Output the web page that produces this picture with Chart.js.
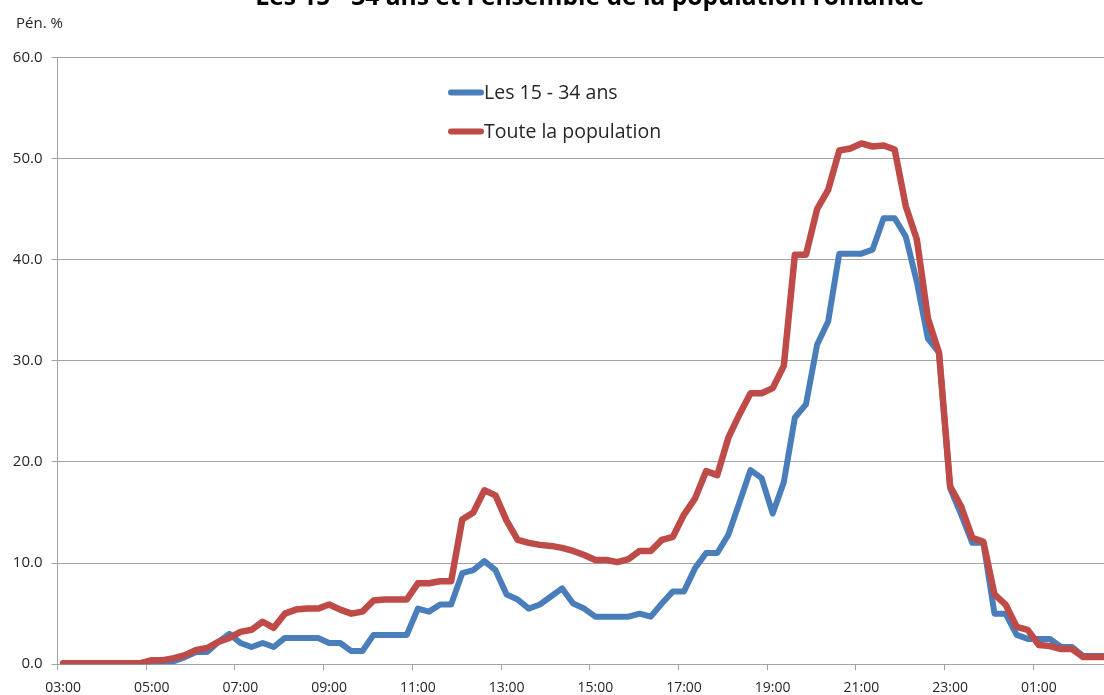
<!DOCTYPE html>
<html>
<head>
<meta charset="utf-8">
<script src="https://cdn.jsdelivr.net/npm/chart.js@4/dist/chart.umd.min.js"></script>
<style>
  html, body { margin: 0; padding: 0; background: #ffffff; overflow: hidden; width: 1104px; height: 695px; }
  #wrap { position: absolute; left: 0; top: -20px; width: 1130px; height: 725px; }
</style>
</head>
<body>
<div id="wrap"><canvas id="c" width="1130" height="725"></canvas></div>
<script>
// --- data ---
const titleText = "Les 15 - 34 ans et l'ensemble de la population romande";
const yAxisTitle = "Pén. %";
const seriesNames = ["Les 15 - 34 ans", "Toute la population"];
const tickLabels = ["03:00","05:00","07:00","09:00","11:00","13:00","15:00","17:00","19:00","21:00","23:00","01:00"];

// 15-minute slots from 03:00 to 02:45
const categories = [];
for (let i = 0; i < 96; i++) {
  const m = (3 * 60 + i * 15) % (24 * 60);
  const h = Math.floor(m / 60), mm = m % 60;
  categories.push(String(h).padStart(2, "0") + ":" + String(mm).padStart(2, "0"));
}

const jeunes = [
  0.0, 0.0, 0.0, 0.0, 0.0, 0.0, 0.0, 0.0,
  0.0, 0.1, 0.3, 0.7, 1.2, 1.2, 2.2, 3.0,
  2.1, 1.7, 2.1, 1.7, 2.6, 2.6, 2.6, 2.6,
  2.1, 2.1, 1.3, 1.3, 2.9, 2.9, 2.9, 2.9,
  5.5, 5.2, 5.9, 5.9, 9.0, 9.3, 10.2, 9.3,
  6.9, 6.4, 5.5, 5.9, 6.7, 7.5, 6.0, 5.5,
  4.7, 4.7, 4.7, 4.7, 5.0, 4.7, 6.0, 7.2,
  7.2, 9.5, 11.0, 11.0, 12.8, 16.0, 19.2, 18.4,
  14.9, 18.0, 24.4, 25.7, 31.6, 33.9, 40.6, 40.6,
  40.6, 41.0, 44.1, 44.1, 42.3, 37.8, 32.2, 30.8,
  17.4, 14.8, 12.0, 12.0, 5.0, 5.0, 2.9, 2.5,
  2.5, 2.5, 1.7, 1.7, 0.8, 0.8, 0.8, 0.8
];

const population = [
  0.1, 0.1, 0.1, 0.1, 0.1, 0.1, 0.1, 0.1,
  0.4, 0.4, 0.6, 0.9, 1.4, 1.6, 2.2, 2.6,
  3.2, 3.4, 4.2, 3.6, 5.0, 5.4, 5.5, 5.5,
  5.9, 5.4, 5.0, 5.2, 6.3, 6.4, 6.4, 6.4,
  8.0, 8.0, 8.2, 8.2, 14.3, 15.0, 17.2, 16.7,
  14.2, 12.3, 12.0, 11.8, 11.7, 11.5, 11.2, 10.8,
  10.3, 10.3, 10.1, 10.4, 11.2, 11.2, 12.3, 12.6,
  14.8, 16.4, 19.1, 18.7, 22.4, 24.7, 26.8, 26.8,
  27.3, 29.5, 40.5, 40.5, 45.0, 46.9, 50.8, 51.0,
  51.5, 51.2, 51.3, 50.9, 45.3, 42.0, 34.2, 30.8,
  17.6, 15.6, 12.5, 12.1, 6.9, 5.9, 3.7, 3.4,
  1.9, 1.8, 1.5, 1.5, 0.7, 0.7, 0.7, 0.7
];

// --- styles ---
const BLUE = "#4A7EBB";
const RED = "#BE4B48";
const GRID = "#a3a3a3";
const TEXT = "#262626";
const FONT = "'Open Sans', 'Noto Sans', sans-serif";

// custom overlay: y-axis caption and in-plot legend
const overlay = {
  id: "overlay",
  afterDraw(chart) {
    const ctx = chart.ctx;
    const area = chart.chartArea;
    ctx.save();
    ctx.fillStyle = TEXT;
    ctx.font = "15px " + FONT;
    ctx.textAlign = "left";
    ctx.textBaseline = "middle";
    ctx.fillText(yAxisTitle, 16, area.top - 34);

    const colors = [BLUE, RED];
    const lx0 = 451, lx1 = 481;
    const ys = [area.top + 35, area.top + 74];
    ctx.font = "19.5px " + FONT;
    for (let k = 0; k < 2; k++) {
      ctx.strokeStyle = colors[k];
      ctx.lineWidth = 6;
      ctx.lineCap = "round";
      ctx.beginPath();
      ctx.moveTo(lx0, ys[k]);
      ctx.lineTo(lx1, ys[k]);
      ctx.stroke();
      ctx.fillStyle = TEXT;
      ctx.fillText(seriesNames[k], 484, ys[k] + 1);
    }
    ctx.restore();
  }
};

new Chart(document.getElementById("c"), {
  type: "line",
  data: {
    labels: categories,
    datasets: [
      {
        label: seriesNames[0],
        data: jeunes,
        borderColor: BLUE,
        backgroundColor: BLUE,
        borderWidth: 6,
        pointRadius: 0,
        tension: 0,
        borderJoinStyle: "round",
        borderCapStyle: "round",
        order: 2
      },
      {
        label: seriesNames[1],
        data: population,
        borderColor: RED,
        backgroundColor: RED,
        borderWidth: 6.5,
        pointRadius: 0,
        tension: 0,
        borderJoinStyle: "round",
        borderCapStyle: "round",
        order: 1
      }
    ]
  },
  options: {
    responsive: false,
    animation: false,
    devicePixelRatio: 1,
    layout: { padding: { left: 0, right: 8, top: 0, bottom: 0 } },
    plugins: {
      legend: { display: false },
      tooltip: { enabled: false },
      title: {
        display: true,
        fullSize: false,
        text: titleText,
        color: "#000000",
        font: { family: FONT, size: 24.6, weight: "bold", lineHeight: 1.2 },
        padding: { top: 3, bottom: 45 }
      }
    },
    scales: {
      x: {
        type: "category",
        offset: true,
        grid: {
          offset: true,
          drawOnChartArea: false,
          drawTicks: true,
          tickLength: 6,
          color: (ctx) => (ctx.index % 8 === 0 ? GRID : "rgba(0,0,0,0)"),
          lineWidth: 1
        },
        border: { display: true, color: GRID, width: 1 },
        ticks: {
          autoSkip: false,
          maxRotation: 0,
          minRotation: 0,
          padding: 9,
          color: TEXT,
          font: { family: FONT, size: 14 },
          callback: (v, index) => (index % 8 === 0 ? tickLabels[index / 8] : "")
        }
      },
      y: {
        min: 0,
        max: 60,
        afterFit: (scale) => { scale.width = 57.5; },
        grid: {
          color: GRID,
          lineWidth: 1,
          drawTicks: true,
          tickLength: 6
        },
        border: { display: true, color: GRID, width: 1 },
        ticks: {
          stepSize: 10,
          padding: 9,
          color: TEXT,
          font: { family: FONT, size: 15 },
          callback: (v) => Number(v).toFixed(1)
        }
      }
    }
  },
  plugins: [overlay]
});
</script>
</body>
</html>
